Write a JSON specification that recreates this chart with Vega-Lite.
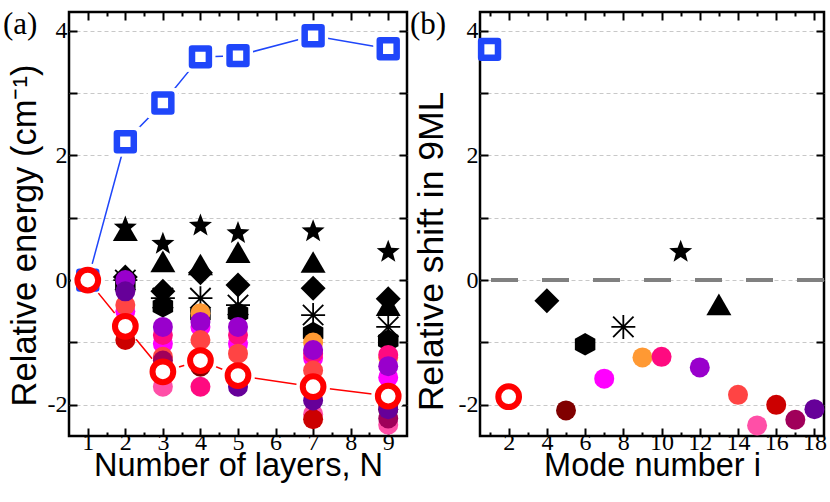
{
  "$schema": "https://vega.github.io/schema/vega-lite/v6.json",
  "background": "white",
  "padding": {"left": 1, "top": 7, "right": 2, "bottom": 2},
  "spacing": -4,
  "config": {
    "view": {"stroke": "black", "strokeWidth": 2.5},
    "axis": {
      "domain": false,
      "tickColor": "black",
      "tickWidth": 2,
      "labelFont": "Liberation Serif",
      "labelFontSize": 24,
      "labelColor": "black",
      "titleFont": "Liberation Sans",
      "titleFontSize": 32.5,
      "titleFontWeight": "normal",
      "titleColor": "black",
      "labelFlush": false,
      "labelOverlap": false,
      "labelBound": false,
      "grid": false,
      "gridColor": "#c8c8c8",
      "gridDash": [4, 3],
      "gridWidth": 1
    }
  },
  "datasets": {
    "blueA": [
      {"N": 1, "E": 0}, {"N": 2, "E": 2.22}, {"N": 3, "E": 2.84}, {"N": 4, "E": 3.58},
      {"N": 5, "E": 3.6}, {"N": 7, "E": 3.92}, {"N": 9, "E": 3.71}
    ],
    "redA": [
      {"N": 1, "E": 0}, {"N": 2, "E": -0.74}, {"N": 3, "E": -1.47}, {"N": 4, "E": -1.29},
      {"N": 5, "E": -1.53}, {"N": 7, "E": -1.71}, {"N": 9, "E": -1.86}
    ],
    "blackA": [
      {"N": 2, "mode": "13", "E": 0.8}, {"N": 2, "mode": "11", "E": 0.86}, {"N": 2, "mode": "4", "E": 0.05}, {"N": 2, "mode": "6", "E": -0.05},
      {"N": 3, "mode": "11", "E": 0.6}, {"N": 3, "mode": "13", "E": 0.3}, {"N": 3, "mode": "4", "E": -0.18}, {"N": 3, "mode": "6", "E": -0.42},
      {"N": 4, "mode": "11", "E": 0.89}, {"N": 4, "mode": "13", "E": 0.25}, {"N": 4, "mode": "4", "E": 0.12}, {"N": 4, "mode": "6", "E": -0.55},
      {"N": 5, "mode": "11", "E": 0.77}, {"N": 5, "mode": "13", "E": 0.45}, {"N": 5, "mode": "4", "E": -0.08}, {"N": 5, "mode": "6", "E": -0.53},
      {"N": 7, "mode": "11", "E": 0.8}, {"N": 7, "mode": "13", "E": 0.29}, {"N": 7, "mode": "4", "E": -0.13}, {"N": 7, "mode": "6", "E": -0.85},
      {"N": 9, "mode": "11", "E": 0.47}, {"N": 9, "mode": "13", "E": -0.4}, {"N": 9, "mode": "4", "E": -0.3}, {"N": 9, "mode": "6", "E": -0.97}
    ],
    "astA": [
      {"N": 2, "E": 0.0}, {"N": 3, "E": -0.29}, {"N": 4, "E": -0.29}, {"N": 5, "E": -0.4}, {"N": 7, "E": -0.56}, {"N": 9, "E": -0.75}
    ],
    "colA": [
      {"N": 4, "mode": "5", "E": -1.39}, {"N": 9, "mode": "5", "E": -2.07},
      {"N": 2, "mode": "7", "E": -0.5}, {"N": 3, "mode": "7", "E": -1.02}, {"N": 4, "mode": "7", "E": -0.75}, {"N": 5, "mode": "7", "E": -1.02}, {"N": 7, "mode": "7", "E": -1.25}, {"N": 9, "mode": "7", "E": -1.56},
      {"N": 4, "mode": "9", "E": -0.53}, {"N": 7, "mode": "9", "E": -1.0}, {"N": 9, "mode": "9", "E": -1.24},
      {"N": 3, "mode": "10", "E": -0.88}, {"N": 4, "mode": "10", "E": -1.71}, {"N": 5, "mode": "10", "E": -0.88}, {"N": 7, "mode": "10", "E": -1.18}, {"N": 9, "mode": "10", "E": -1.2},
      {"N": 2, "mode": "12", "E": 0.0}, {"N": 3, "mode": "12", "E": -0.75}, {"N": 4, "mode": "12", "E": -0.67}, {"N": 5, "mode": "12", "E": -0.75}, {"N": 7, "mode": "12", "E": -1.12}, {"N": 9, "mode": "12", "E": -1.38},
      {"N": 2, "mode": "14", "E": -0.4}, {"N": 3, "mode": "14", "E": -1.23}, {"N": 4, "mode": "14", "E": -0.96}, {"N": 5, "mode": "14", "E": -1.18}, {"N": 7, "mode": "14", "E": -1.45}, {"N": 9, "mode": "14", "E": -1.84},
      {"N": 3, "mode": "15", "E": -1.71}, {"N": 7, "mode": "15", "E": -2.15}, {"N": 9, "mode": "15", "E": -2.32},
      {"N": 2, "mode": "16", "E": -0.96}, {"N": 7, "mode": "16", "E": -2.23}, {"N": 9, "mode": "16", "E": -2.0},
      {"N": 3, "mode": "17", "E": -1.29}, {"N": 9, "mode": "17", "E": -2.22},
      {"N": 2, "mode": "18", "E": -0.18}, {"N": 5, "mode": "18", "E": -1.71}, {"N": 7, "mode": "18", "E": -1.93}, {"N": 9, "mode": "18", "E": -2.07}
    ],
    "zeroB": [{"E": 0}],
    "blueB": [{"i": 1, "E": 3.7}],
    "redB": [{"i": 2, "E": -1.87}],
    "blackB": [
      {"i": 4, "mode": "4", "E": -0.33}, {"i": 6, "mode": "6", "E": -1.03},
      {"i": 11, "mode": "11", "E": 0.47}, {"i": 13, "mode": "13", "E": -0.39}
    ],
    "astB": [{"i": 8, "E": -0.75}],
    "colB": [
      {"i": 5, "mode": "5", "E": -2.09}, {"i": 7, "mode": "7", "E": -1.58}, {"i": 9, "mode": "9", "E": -1.24},
      {"i": 10, "mode": "10", "E": -1.23}, {"i": 12, "mode": "12", "E": -1.4}, {"i": 14, "mode": "14", "E": -1.84},
      {"i": 15, "mode": "15", "E": -2.33}, {"i": 16, "mode": "16", "E": -2.0}, {"i": 17, "mode": "17", "E": -2.24},
      {"i": 18, "mode": "18", "E": -2.07}
    ]
  },
  "hconcat": [
    {
      "width": 338,
      "height": 424,
      "resolve": {"axis": {"x": "independent", "y": "independent"}},
      "layer": [
        {
          "data": {"name": "blueA"},
          "mark": {"type": "line", "color": "#1f46fa", "strokeWidth": 1.5},
          "encoding": {
            "x": {"field": "N", "type": "quantitative", "scale": {"domain": [0.5, 9.5], "nice": false, "zero": false},
                  "axis": {"orient": "bottom", "values": [1, 2, 3, 4, 5, 6, 7, 8, 9], "tickSize": -8, "labelPadding": 2, "format": "d", "title": "Number of layers, N", "titlePadding": -5}},
            "y": {"field": "E", "type": "quantitative", "scale": {"domain": [-2.5, 4.3], "nice": false, "zero": false},
                  "axis": {"orient": "left", "values": [-2, -1, 0, 1, 2, 3, 4], "tickSize": -8, "labelPadding": 10, "grid": true,
                           "labelExpr": "datum.value % 2 == 0 ? '' + datum.value : ''",
                           "title": "Relative energy (cm⁻¹)", "titleFontSize": 34.5, "titleX": -27, "titleY": 223, "titleBaseline": "bottom"}}
          }
        },
        {
          "data": {"name": "blueA"},
          "mark": {"type": "point", "shape": "square", "filled": true, "color": "white", "opacity": 1, "size": 900},
          "encoding": {
            "x": {"field": "N", "type": "quantitative", "scale": {"domain": [0.5, 9.5], "nice": false, "zero": false},
                  "axis": {"orient": "top", "values": [1, 2, 3, 4, 5, 6, 7, 8, 9], "tickSize": -8, "labels": false, "title": null}},
            "y": {"field": "E", "type": "quantitative", "scale": {"domain": [-2.5, 4.3], "nice": false, "zero": false},
                  "axis": {"orient": "right", "values": [-2, -1, 0, 1, 2, 3, 4], "tickSize": -8, "labels": false, "title": null}}
          }
        },
        {
          "data": {"name": "redA"},
          "mark": {"type": "line", "color": "#ff0000", "strokeWidth": 1.5},
          "encoding": {
            "x": {"field": "N", "type": "quantitative", "scale": {"domain": [0.5, 9.5], "nice": false, "zero": false},
                  "axis": {"orient": "bottom", "values": [1.5, 2.5, 3.5, 4.5, 5.5, 6.5, 7.5, 8.5], "tickSize": -4, "labels": false, "title": null}},
            "y": {"field": "E", "type": "quantitative", "scale": {"domain": [-2.5, 4.3], "nice": false, "zero": false}, "axis": null}
          }
        },
        {
          "data": {"name": "redA"},
          "mark": {"type": "point", "shape": "circle", "filled": true, "color": "white", "opacity": 1, "size": 1150},
          "encoding": {
            "x": {"field": "N", "type": "quantitative", "scale": {"domain": [0.5, 9.5], "nice": false, "zero": false},
                  "axis": {"orient": "top", "values": [1.5, 2.5, 3.5, 4.5, 5.5, 6.5, 7.5, 8.5], "tickSize": -4, "labels": false, "title": null}},
            "y": {"field": "E", "type": "quantitative", "scale": {"domain": [-2.5, 4.3], "nice": false, "zero": false}, "axis": null}
          }
        },
        {
          "data": {"name": "blueA"},
          "mark": {"type": "point", "shape": "square", "filled": false, "fill": "white", "stroke": "#1f46fa", "strokeWidth": 6.5, "strokeJoin": "round", "opacity": 1, "size": 285},
          "encoding": {
            "x": {"field": "N", "type": "quantitative", "scale": {"domain": [0.5, 9.5], "nice": false, "zero": false}, "axis": null},
            "y": {"field": "E", "type": "quantitative", "scale": {"domain": [-2.5, 4.3], "nice": false, "zero": false}, "axis": null}
          }
        },
        {
          "data": {"name": "blackA"},
          "mark": {"type": "point", "filled": true, "color": "black", "opacity": 1, "size": 625},
          "encoding": {
            "x": {"field": "N", "type": "quantitative", "scale": {"domain": [0.5, 9.5], "nice": false, "zero": false}, "axis": null},
            "y": {"field": "E", "type": "quantitative", "scale": {"domain": [-2.5, 4.3], "nice": false, "zero": false}, "axis": null},
            "shape": {"field": "mode", "type": "nominal", "legend": null,
                      "scale": {"domain": ["4", "6", "11", "13"],
                                "range": ["diamond", "M0,-0.9L0.82,-0.45L0.82,0.45L0,0.9L-0.82,0.45L-0.82,-0.45Z", "M0,-0.88L0.24,-0.24L0.922,-0.21L0.387,0.216L0.57,0.875L0,0.497L-0.57,0.875L-0.387,0.216L-0.922,-0.21L-0.24,-0.24Z", "triangle-up"]}}
          }
        },
        {
          "data": {"name": "astA"},
          "mark": {"type": "point", "filled": false, "shape": "M-1,0L1,0M0,-1L0,1M-0.85,-0.85L0.85,0.85M-0.85,0.85L0.85,-0.85", "stroke": "black", "strokeWidth": 1.8, "opacity": 1, "size": 576},
          "encoding": {
            "x": {"field": "N", "type": "quantitative", "scale": {"domain": [0.5, 9.5], "nice": false, "zero": false}, "axis": null},
            "y": {"field": "E", "type": "quantitative", "scale": {"domain": [-2.5, 4.3], "nice": false, "zero": false}, "axis": null}
          }
        },
        {
          "data": {"name": "colA"},
          "mark": {"type": "point", "shape": "circle", "filled": true, "opacity": 1, "size": 400},
          "encoding": {
            "x": {"field": "N", "type": "quantitative", "scale": {"domain": [0.5, 9.5], "nice": false, "zero": false}, "axis": null},
            "y": {"field": "E", "type": "quantitative", "scale": {"domain": [-2.5, 4.3], "nice": false, "zero": false}, "axis": null},
            "color": {"field": "mode", "type": "nominal", "legend": null,
                      "scale": {"domain": ["5", "7", "9", "10", "12", "14", "15", "16", "17", "18"],
                                "range": ["#800000", "#ff00ff", "#ff9933", "#ff0a80", "#9900cc", "#ff4444", "#ff4fa7", "#cc0000", "#a0005a", "#660099"]}}
          }
        },
        {
          "data": {"name": "redA"},
          "mark": {"type": "point", "shape": "circle", "filled": false, "fill": "white", "stroke": "#ff0000", "strokeWidth": 6, "opacity": 1, "size": 430},
          "encoding": {
            "x": {"field": "N", "type": "quantitative", "scale": {"domain": [0.5, 9.5], "nice": false, "zero": false}, "axis": null},
            "y": {"field": "E", "type": "quantitative", "scale": {"domain": [-2.5, 4.3], "nice": false, "zero": false}, "axis": null}
          }
        },
        {
          "data": {"values": [{"t": "(a)"}]},
          "mark": {"type": "text", "align": "left", "baseline": "top", "font": "Liberation Serif", "fontSize": 31, "color": "black", "dx": -66, "dy": -2},
          "encoding": {
            "x": {"datum": 0.5, "type": "quantitative", "scale": {"domain": [0.5, 9.5], "nice": false, "zero": false}, "axis": null},
            "y": {"datum": 4.3, "type": "quantitative", "scale": {"domain": [-2.5, 4.3], "nice": false, "zero": false}, "axis": null},
            "text": {"field": "t"}
          }
        }
      ]
    },
    {
      "width": 344,
      "height": 424,
      "resolve": {"axis": {"x": "independent", "y": "independent"}},
      "layer": [
        {
          "data": {"name": "zeroB"},
          "mark": {"type": "rule", "color": "#808080", "strokeWidth": 4, "strokeDash": [27, 24]},
          "encoding": {
            "y": {"field": "E", "type": "quantitative", "scale": {"domain": [-2.5, 4.3], "nice": false, "zero": false},
                  "axis": {"orient": "left", "values": [-2, -1, 0, 1, 2, 3, 4], "tickSize": -8, "labelPadding": 10, "grid": true,
                           "labelExpr": "datum.value % 2 == 0 ? '' + datum.value : ''",
                           "title": "Relative shift in 9ML", "titleFontSize": 35.5, "titleX": -31, "titleY": 239, "titleBaseline": "bottom"}}
          }
        },
        {
          "data": {"name": "blueB"},
          "mark": {"type": "point", "shape": "square", "filled": false, "fill": "white", "stroke": "#1f46fa", "strokeWidth": 6.5, "strokeJoin": "round", "opacity": 1, "size": 285},
          "encoding": {
            "x": {"field": "i", "type": "quantitative", "scale": {"domain": [0.5, 18.5], "nice": false, "zero": false},
                  "axis": {"orient": "bottom", "values": [2, 4, 6, 8, 10, 12, 14, 16, 18], "tickSize": -8, "labelPadding": 2, "format": "d", "title": "Mode number i", "titlePadding": -5}},
            "y": {"field": "E", "type": "quantitative", "scale": {"domain": [-2.5, 4.3], "nice": false, "zero": false},
                  "axis": {"orient": "right", "values": [-2, -1, 0, 1, 2, 3, 4], "tickSize": -8, "labels": false, "title": null}}
          }
        },
        {
          "data": {"name": "blackB"},
          "mark": {"type": "point", "filled": true, "color": "black", "opacity": 1, "size": 625},
          "encoding": {
            "x": {"field": "i", "type": "quantitative", "scale": {"domain": [0.5, 18.5], "nice": false, "zero": false},
                  "axis": {"orient": "bottom", "values": [1, 3, 5, 7, 9, 11, 13, 15, 17], "tickSize": -4, "labels": false, "title": null}},
            "y": {"field": "E", "type": "quantitative", "scale": {"domain": [-2.5, 4.3], "nice": false, "zero": false}, "axis": null},
            "shape": {"field": "mode", "type": "nominal", "legend": null,
                      "scale": {"domain": ["4", "6", "11", "13"],
                                "range": ["diamond", "M0,-0.9L0.82,-0.45L0.82,0.45L0,0.9L-0.82,0.45L-0.82,-0.45Z", "M0,-0.88L0.24,-0.24L0.922,-0.21L0.387,0.216L0.57,0.875L0,0.497L-0.57,0.875L-0.387,0.216L-0.922,-0.21L-0.24,-0.24Z", "triangle-up"]}}
          }
        },
        {
          "data": {"name": "astB"},
          "mark": {"type": "point", "filled": false, "shape": "M-1,0L1,0M0,-1L0,1M-0.85,-0.85L0.85,0.85M-0.85,0.85L0.85,-0.85", "stroke": "black", "strokeWidth": 1.8, "opacity": 1, "size": 576},
          "encoding": {
            "x": {"field": "i", "type": "quantitative", "scale": {"domain": [0.5, 18.5], "nice": false, "zero": false},
                  "axis": {"orient": "top", "values": [2, 4, 6, 8, 10, 12, 14, 16, 18], "tickSize": -8, "labels": false, "title": null}},
            "y": {"field": "E", "type": "quantitative", "scale": {"domain": [-2.5, 4.3], "nice": false, "zero": false}, "axis": null}
          }
        },
        {
          "data": {"name": "colB"},
          "mark": {"type": "point", "shape": "circle", "filled": true, "opacity": 1, "size": 400},
          "encoding": {
            "x": {"field": "i", "type": "quantitative", "scale": {"domain": [0.5, 18.5], "nice": false, "zero": false},
                  "axis": {"orient": "top", "values": [1, 3, 5, 7, 9, 11, 13, 15, 17], "tickSize": -4, "labels": false, "title": null}},
            "y": {"field": "E", "type": "quantitative", "scale": {"domain": [-2.5, 4.3], "nice": false, "zero": false}, "axis": null},
            "color": {"field": "mode", "type": "nominal", "legend": null,
                      "scale": {"domain": ["5", "7", "9", "10", "12", "14", "15", "16", "17", "18"],
                                "range": ["#800000", "#ff00ff", "#ff9933", "#ff0a80", "#9900cc", "#ff4444", "#ff4fa7", "#cc0000", "#a0005a", "#660099"]}}
          }
        },
        {
          "data": {"name": "redB"},
          "mark": {"type": "point", "shape": "circle", "filled": false, "fill": "white", "stroke": "#ff0000", "strokeWidth": 6, "opacity": 1, "size": 430},
          "encoding": {
            "x": {"field": "i", "type": "quantitative", "scale": {"domain": [0.5, 18.5], "nice": false, "zero": false}, "axis": null},
            "y": {"field": "E", "type": "quantitative", "scale": {"domain": [-2.5, 4.3], "nice": false, "zero": false}, "axis": null}
          }
        },
        {
          "data": {"values": [{"t": "(b)"}]},
          "mark": {"type": "text", "align": "left", "baseline": "top", "font": "Liberation Serif", "fontSize": 31, "color": "black", "dx": -70, "dy": -2},
          "encoding": {
            "x": {"datum": 0.5, "type": "quantitative", "scale": {"domain": [0.5, 18.5], "nice": false, "zero": false}, "axis": null},
            "y": {"datum": 4.3, "type": "quantitative", "scale": {"domain": [-2.5, 4.3], "nice": false, "zero": false}, "axis": null},
            "text": {"field": "t"}
          }
        }
      ]
    }
  ]
}
